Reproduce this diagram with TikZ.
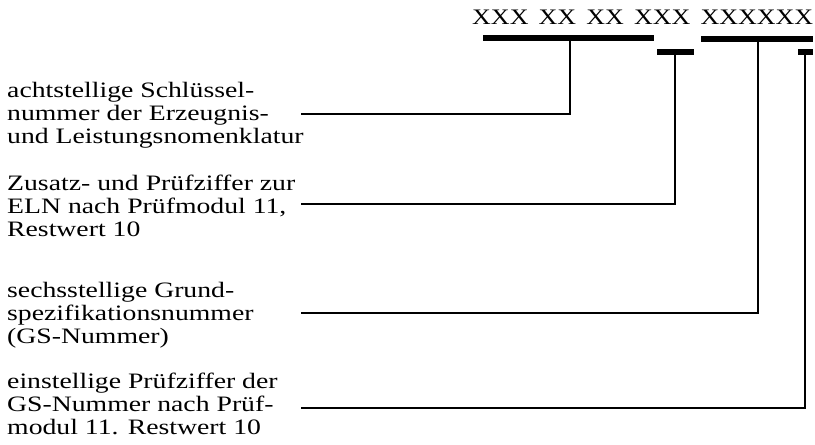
\documentclass[tikz,border=0pt]{standalone}
\usepackage{fontspec}
\setmainfont{Liberation Serif}[FakeStretch=1.26]
\newfontfamily\codefont{Liberation Serif}
\tikzset{
  bar/.style={fill=black, inner sep=0pt, minimum height=6pt},
  lead/.style={line width=1.3pt, line join=miter},
  % multi-line labels sit on the baseline of their last line
  label/.style={anchor=base west, inner sep=0pt, align=left,
    font=\fontsize{22}{23}\selectfont},
}
\begin{document}
\begin{tikzpicture}[x=1pt,y=-1pt]
\useasboundingbox (0,0) rectangle (815,445);

% key number
\node[anchor=south west, inner sep=0pt] (code) at (472,24.5)
  {\codefont\resizebox{341pt}{14.5pt}{XXX\hspace{0.39em}XX\hspace{0.39em}XX\hspace{0.39em}XXX\hspace{0.39em}XXXXXX}};

% brackets under the digit groups
\node[bar, minimum width=171pt] (b1) at (568.5,38) {};
\node[bar, minimum width=37pt]  (b2) at (675.5,52) {};
\node[bar, minimum width=112pt] (b3) at (757,39) {};
\node[bar, minimum width=15pt]  (b4) at (805.5,52) {};

% explanations
\node[label] (t1) at (7,143) {achtstellige Schlüssel-\\nummer der Erzeugnis-\\und Leistungsnomenklatur};
\node[label] (t2) at (7,236) {Zusatz- und Prüfziffer zur\\ELN nach Prüfmodul 11,\\Restwert 10};
\node[label] (t3) at (7,343) {sechsstellige Grund-\\spezifikationsnummer\\(GS-Nummer)};
\node[label] (t4) at (7,434) {einstellige Prüfziffer der\\GS-Nummer nach Prüf-\\modul 11. Restwert 10};

% leader lines
\coordinate (k1) at (570,114); \coordinate (s1) at (301,114);
\coordinate (k2) at (675,204); \coordinate (s2) at (301,204);
\coordinate (k3) at (758,313); \coordinate (s3) at (301,313);
\coordinate (k4) at (805,408); \coordinate (s4) at (301,408);
\draw[lead] (b1.south -| k1) -- (k1) -- (s1);
\draw[lead] (b2.south -| k2) -- (k2) -- (s2);
\draw[lead] (b3.south -| k3) -- (k3) -- (s3);
\draw[lead] (b4.south -| k4) -- (k4) -- (s4);
\end{tikzpicture}
\end{document}
